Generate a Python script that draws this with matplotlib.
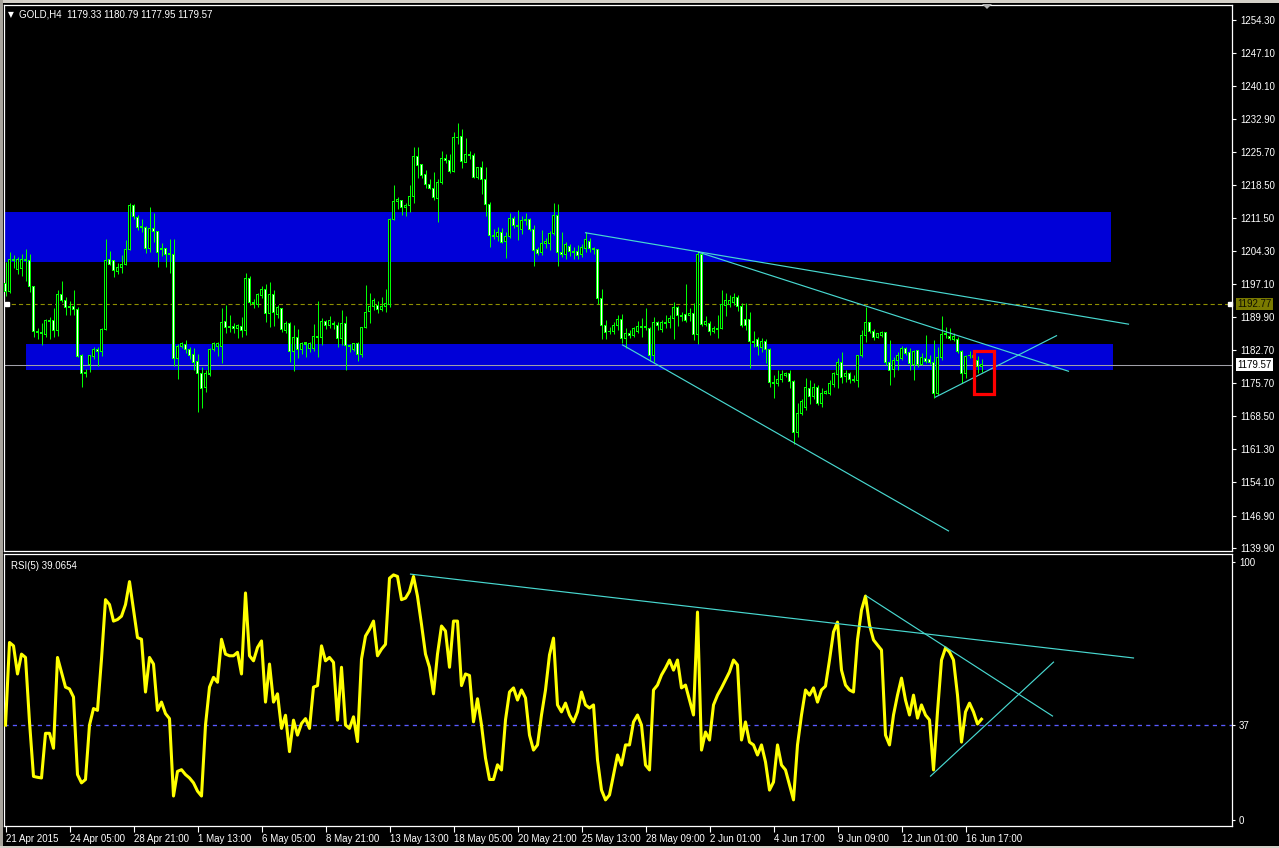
import matplotlib
matplotlib.use('Agg')
import matplotlib.pyplot as plt
from matplotlib.patches import Rectangle, Polygon

plt.rcParams['font.family'] = ['Liberation Sans', 'DejaVu Sans']
plt.rcParams['lines.scale_dashes'] = False

# ---------------- data ----------------
opens = [1197.2,1195.4,1202.4,1200.3,1200.5,1202.4,1202.1,1196.5,1186.9,1186.55,
 1186.25,1189.1,1189.1,1187.0,1194.85,1193.6,1192.3,1192.3,1191.6,1181.5,
 1178.0,1179.55,1181.35,1182.9,1182.4,1187.3,1202.3,1202.1,1199.8,1200.6,
 1201.35,1204.6,1214.0,1211.5,1209.5,1209.4,1204.75,1209.1,1208.4,1204.8,
 1204.8,1203.7,1203.4,1181.0,1183.65,1184.0,1182.9,1181.9,1180.3,1177.7,
 1174.7,1177.6,1182.9,1183.5,1183.5,1188.9,1187.8,1187.8,1187.5,1187.85,
 1187.0,1198.3,1193.1,1192.7,1194.7,1195.8,1190.7,1194.9,1190.5,1191.7,
 1187.1,1188.6,1182.4,1185.5,1182.8,1184.1,1183.15,1183.15,1185.8,1185.45,
 1189.0,1188.05,1188.6,1188.2,1185.3,1188.6,1183.7,1182.8,1184.2,1181.85,
 1187.6,1191.2,1192.3,1192.4,1191.6,1192.2,1192.75,1211.1,1214.9,1215.2,
 1213.6,1214.1,1216.1,1224.8,1222.9,1220.85,1218.7,1217.8,1215.65,1219.1,
 1224.3,1223.9,1221.4,1228.9,1229.0,1223.45,1225.2,1225.0,1220.1,1222.4,
 1219.8,1214.35,1207.7,1207.4,1208.3,1206.3,1207.35,1211.3,1209.7,1208.9,
 1210.9,1211.1,1208.9,1204.5,1203.95,1205.8,1205.9,1208.1,1212.0,1203.95,
 1203.5,1205.2,1204.2,1204.2,1203.4,1204.8,1206.3,1204.8,1204.5,1194.0,
 1188.2,1186.9,1186.8,1188.0,1189.4,1185.2,1186.4,1186.0,1186.9,1187.8,
 1187.6,1187.5,1181.6,1188.7,1187.3,1188.7,1188.7,1189.65,1192.0,1190.2,
 1190.4,1190.2,1190.7,1186.2,1203.5,1188.35,1188.6,1186.8,1187.35,1187.5,
 1192.4,1192.55,1193.1,1194.2,1192.3,1189.4,1189.4,1184.6,1185.0,1183.3,
 1184.6,1182.9,1175.85,1175.6,1176.4,1177.2,1177.7,1175.9,1164.9,1169.1,
 1170.4,1174.5,1172.8,1174.7,1171.2,1173.4,1173.4,1175.4,1177.4,1180.05,
 1177.0,1177.7,1176.3,1176.1,1181.5,1186.0,1188.7,1186.9,1185.5,1186.0,
 1186.6,1180.05,1178.5,1180.5,1181.0,1183.15,1182.2,1179.75,1182.6,1179.75,
 1181.0,1180.8,1180.05,1173.4,1181.1,1186.2,1185.8,1185.1,1185.1,1182.4,
 1177.7,1181.5,1181.7,1180.6,1179.33]
highs = [1201.9,1204.1,1203.4,1203.0,1203.5,1204.6,1203.7,1196.5,1187.6,1188.6,
 1189.5,1190.0,1191.8,1195.8,1197.7,1194.2,1193.4,1195.8,1192.2,1181.9,
 1178.6,1181.6,1183.5,1183.5,1187.5,1206.8,1204.2,1202.3,1201.7,1203.4,
 1206.6,1214.6,1214.35,1212.1,1211.2,1209.7,1213.85,1212.5,1208.4,1206.0,
 1205.0,1206.8,1206.8,1184.0,1184.6,1184.95,1183.5,1183.15,1181.9,1179.2,
 1178.45,1183.15,1184.6,1184.6,1192.0,1192.5,1190.4,1188.6,1188.4,1190.0,
 1199.5,1198.8,1193.8,1195.2,1196.65,1197.1,1197.6,1195.8,1192.5,1192.0,
 1189.1,1188.9,1188.2,1187.3,1184.6,1184.6,1184.6,1188.4,1193.4,1189.65,
 1189.4,1190.2,1189.15,1188.9,1191.5,1190.2,1184.2,1184.4,1184.6,1187.85,
 1196.9,1195.1,1194.1,1193.4,1194.3,1196.0,1211.3,1218.5,1215.9,1215.4,
 1214.6,1218.5,1226.8,1226.8,1223.2,1221.7,1219.8,1221.3,1219.8,1225.9,
 1225.2,1225.2,1229.95,1231.9,1230.6,1228.65,1225.9,1225.4,1222.5,1223.75,
 1222.4,1214.8,1209.0,1209.4,1209.2,1208.4,1212.4,1211.9,1213.1,1211.9,
 1212.4,1211.5,1209.9,1205.2,1208.8,1207.1,1208.6,1214.6,1214.4,1208.3,
 1206.3,1205.7,1205.2,1205.5,1205.7,1208.3,1207.0,1205.2,1204.5,1196.0,
 1189.3,1187.85,1188.9,1190.4,1190.6,1187.6,1187.1,1187.85,1189.1,1189.65,
 1191.8,1187.85,1190.0,1189.1,1189.4,1190.4,1190.4,1193.3,1192.4,1191.1,
 1197.1,1191.8,1192.9,1204.1,1203.95,1190.2,1189.1,1188.0,1190.4,1195.8,
 1195.1,1194.7,1195.1,1194.7,1192.9,1192.9,1191.1,1187.0,1185.7,1185.3,
 1185.1,1183.15,1177.4,1178.5,1178.5,1178.1,1178.5,1176.3,1171.4,1172.1,
 1176.7,1176.3,1175.6,1175.2,1174.5,1174.1,1176.3,1178.1,1181.0,1182.4,
 1178.5,1178.1,1177.4,1181.7,1187.1,1192.2,1188.9,1187.3,1186.55,1187.0,
 1186.8,1185.0,1181.35,1182.4,1183.7,1183.5,1183.15,1182.8,1182.9,1182.1,
 1186.0,1181.7,1185.0,1183.5,1190.2,1187.7,1187.5,1186.4,1185.7,1182.8,
 1181.7,1182.6,1182.4,1181.5,1180.79]
lows = [1194.4,1195.1,1200.5,1199.3,1198.8,1197.8,1195.4,1185.7,1185.1,1183.9,
 1185.7,1185.1,1185.7,1185.8,1193.3,1190.4,1190.4,1190.4,1181.35,1174.8,
 1176.9,1178.1,1180.8,1179.3,1181.5,1187.1,1201.2,1198.7,1199.3,1199.4,
 1201.2,1204.45,1211.1,1208.8,1208.4,1203.9,1204.1,1206.3,1200.85,1203.2,
 1200.7,1199.5,1179.3,1176.5,1183.15,1182.1,1180.8,1178.45,1169.4,1170.3,
 1173.8,1177.2,1182.6,1181.5,1180.05,1186.55,1186.8,1186.55,1185.3,1185.7,
 1186.0,1192.5,1192.0,1192.2,1194.1,1188.9,1187.85,1188.0,1189.65,1186.8,
 1186.4,1180.3,1178.2,1181.0,1181.85,1181.35,1182.4,1182.6,1181.35,1183.9,
 1187.3,1187.5,1187.3,1183.5,1183.9,1178.5,1182.4,1182.6,1180.4,1181.35,
 1187.5,1188.7,1191.5,1190.9,1191.2,1191.1,1192.2,1210.9,1213.3,1212.0,
 1211.9,1212.8,1214.7,1220.0,1220.0,1218.0,1217.6,1215.3,1210.6,1218.75,
 1223.4,1221.2,1221.4,1227.4,1222.2,1223.45,1224.2,1220.0,1219.8,1216.7,
 1211.9,1205.2,1206.85,1206.4,1205.9,1202.8,1207.0,1209.2,1206.6,1207.9,
 1209.9,1208.6,1201.1,1203.4,1203.4,1204.8,1204.5,1207.7,1201.1,1203.0,
 1202.5,1203.2,1202.45,1202.5,1203.0,1204.1,1204.1,1203.5,1192.7,1185.2,
 1185.2,1186.2,1186.2,1187.1,1184.4,1183.3,1185.3,1185.7,1186.55,1185.7,
 1187.1,1180.5,1180.3,1187.1,1186.8,1187.6,1187.5,1185.2,1188.1,1189.1,
 1188.9,1189.1,1185.0,1184.2,1188.1,1188.1,1186.0,1186.4,1185.5,1187.35,
 1190.2,1192.2,1192.55,1191.3,1187.85,1187.1,1179.0,1183.5,1181.7,1182.4,
 1180.05,1174.85,1172.5,1175.0,1175.9,1176.9,1174.5,1162.4,1164.0,1168.7,
 1169.9,1171.2,1172.1,1170.9,1170.5,1173.3,1173.0,1174.85,1174.5,1175.6,
 1175.9,1175.6,1175.85,1174.85,1181.35,1184.6,1186.4,1185.0,1185.3,1185.7,
 1179.5,1175.2,1177.0,1178.5,1180.6,1181.7,1178.5,1176.3,1179.2,1179.5,
 1180.05,1179.75,1172.5,1173.0,1180.6,1185.5,1185.0,1184.8,1182.1,1175.7,
 1176.7,1181.0,1180.8,1177.9,1177.95]
closes = [1195.4,1202.4,1202.1,1202.3,1202.4,1202.1,1196.5,1186.8,1186.55,1186.3,
 1189.1,1188.9,1187.0,1194.85,1193.5,1192.0,1192.0,1191.5,1181.35,1177.7,
 1177.65,1181.5,1182.9,1182.5,1187.3,1202.1,1201.4,1200.0,1200.7,1201.35,
 1204.6,1214.0,1211.7,1209.4,1209.3,1204.75,1209.1,1208.4,1203.95,1204.6,
 1203.4,1203.4,1181.0,1183.65,1184.1,1182.9,1181.7,1180.05,1177.7,1174.5,
 1177.7,1182.9,1184.1,1184.1,1188.7,1187.7,1187.6,1187.55,1188.0,1187.0,
 1198.3,1193.1,1192.9,1194.9,1195.8,1190.7,1194.9,1190.9,1192.0,1187.3,
 1188.6,1182.4,1185.5,1182.8,1184.1,1184.4,1184.2,1185.8,1185.5,1189.0,
 1188.05,1189.2,1188.35,1185.3,1188.6,1183.7,1183.65,1184.2,1181.85,1187.7,
 1191.0,1192.3,1193.6,1191.6,1192.3,1192.9,1211.1,1214.9,1215.3,1213.6,
 1214.2,1216.1,1224.8,1222.7,1220.5,1218.7,1217.8,1215.8,1219.1,1224.3,
 1223.75,1221.4,1228.9,1228.8,1223.6,1225.2,1224.9,1220.2,1222.3,1219.8,
 1214.35,1207.6,1207.4,1208.3,1206.1,1207.4,1211.3,1209.7,1209.45,1210.75,
 1211.1,1208.9,1204.4,1203.7,1205.9,1206.3,1208.1,1212.0,1203.95,1203.5,
 1205.7,1204.1,1203.95,1203.2,1205.0,1206.8,1204.7,1204.5,1194.0,1188.1,
 1186.55,1186.7,1188.2,1189.4,1185.3,1186.4,1186.0,1187.5,1187.8,1187.6,
 1187.85,1181.6,1188.7,1188.0,1188.7,1188.5,1189.65,1192.0,1190.2,1190.0,
 1189.15,1190.7,1186.2,1203.5,1188.35,1188.9,1186.8,1187.35,1187.5,1192.55,
 1193.55,1193.55,1194.2,1192.3,1188.2,1188.0,1184.6,1184.45,1183.5,1184.6,
 1182.9,1175.7,1175.6,1176.4,1177.4,1177.7,1175.9,1164.9,1169.1,1171.7,
 1174.6,1172.8,1174.7,1171.2,1173.4,1173.7,1175.6,1177.6,1180.05,1176.9,
 1177.7,1176.3,1176.1,1181.5,1186.0,1188.7,1186.8,1185.5,1186.3,1186.6,
 1180.05,1178.3,1180.6,1181.7,1183.15,1182.1,1179.9,1182.4,1179.6,1181.1,
 1180.3,1180.05,1173.4,1181.1,1186.2,1186.4,1185.3,1185.8,1182.4,1177.7,
 1181.35,1181.7,1181.2,1179.3,1179.57]

rsi = [36.8,68.8,67.5,56.6,64.3,63.0,38.05,16.9,16.55,16.3,
 33.6,33.6,27.8,63.0,57.25,51.5,50.8,47.65,17.6,14.4,
 15.7,36.8,43.2,42.5,62.4,85.4,83.5,77.1,77.7,79.0,
 83.5,92.4,81.6,70.7,70.05,49.6,63.0,60.45,42.5,45.7,
 41.25,39.3,9.3,18.85,19.5,17.6,16.3,14.4,11.2,9.3,
 36.8,51.5,55.3,53.4,70.05,64.3,63.65,63.65,65.0,56.6,
 88.0,63.65,61.7,66.85,69.4,45.7,60.45,45.7,48.9,35.5,
 40.6,26.5,38.7,32.9,37.4,39.3,35.5,51.5,52.1,67.5,
 61.7,63.0,61.1,38.7,59.2,36.8,35.5,40.0,30.4,62.4,
 71.3,73.9,77.1,63.65,66.2,68.1,93.7,95.0,94.4,85.4,
 86.0,88.6,94.4,86.7,75.8,64.3,59.2,48.9,64.3,75.2,
 73.25,59.2,77.1,77.1,52.1,56.6,56.0,38.05,47.0,36.8,
 24.0,15.7,15.7,21.4,19.4,38.8,49.6,51.2,46.5,50.4,
 47.3,32.9,27.1,29.1,40.7,50.4,64.0,70.5,44.6,41.9,
 45.3,40.7,38.0,41.9,49.6,44.6,43.4,44.6,23.3,11.6,
 7.8,9.7,17.4,25.2,21.3,29.1,29.1,38.0,40.7,36.8,
 21.3,19.4,50.4,52.3,56.2,58.9,62.0,58.1,62.0,51.2,
 52.3,46.5,40.7,80.6,27.1,34.1,31.0,44.6,48.4,51.2,
 54.3,57.4,62.0,60.1,31.0,38.0,30.2,29.1,25.2,29.1,
 22.5,11.6,14.7,29.1,21.3,19.4,13.6,7.8,29.1,40.7,
 50.4,48.4,51.2,45.7,50.4,51.9,62.0,72.9,76.7,58.1,
 52.3,50.4,49.6,69.8,81.4,86.8,75.6,69.8,67.8,65.9,
 32.9,29.1,40.7,48.4,55.0,46.5,40.7,48.4,39.5,44.6,
 40.7,38.8,19.4,41.9,62.0,66.7,65.1,62.0,48.4,30.2,
 41.9,45.3,41.9,37.2,39.0654]

price_ticks = [1254.30, 1247.10, 1240.10, 1232.90, 1225.70, 1218.50, 1211.50, 1204.30,
               1197.10, 1189.90, 1182.70, 1175.70, 1168.50, 1161.30, 1154.10, 1146.90, 1139.90]
time_tick_bars = [0, 16, 32, 48, 64, 80, 96, 112, 128, 144, 160, 176, 192, 208, 224, 240]
time_tick_labels = ['21 Apr 2015', '24 Apr 05:00', '28 Apr 21:00', '1 May 13:00', '6 May 05:00',
                    '8 May 21:00', '13 May 13:00', '18 May 05:00', '20 May 21:00', '25 May 13:00',
                    '28 May 09:00', '2 Jun 01:00', '4 Jun 17:00', '9 Jun 09:00', '12 Jun 01:00',
                    '16 Jun 17:00']
rsi_ticks = [100, 37, 0]
rsi_level = 37
ask_line = 1192.77
bid_line = 1179.57

# zones: (first bar, last bar, low price, high price)
zone_upper = (-0.4, 276.25, 1201.9, 1212.7)
zone_lower = (5.0, 276.75, 1178.4, 1184.1)
# trend lines: ((bar, value), (bar, value))
price_trendlines = [((145.0, 1208.2), (280.75, 1188.4)),
                    ((173.25, 1204.0), (265.75, 1178.2)),
                    ((154.25, 1183.9), (235.75, 1143.6)),
                    ((232.5, 1172.6), (262.75, 1185.9))]
rsi_trendlines = [((101.25, 95.3), (282.0, 62.8)),
                  ((215.25, 86.8), (261.75, 40.3)),
                  ((231.25, 17.0), (262.0, 61.2))]
red_box = (242.1, 247.1, 1173.2, 1182.6)

# ---------------- style ----------------
W, H = 1279, 848
GREEN = '#00ff00'
BLUE = '#0000d8'
TEAL = '#48d8d0'
FRAME = '#ffffff'
FS = 7

fig = plt.figure(figsize=(W / 100, H / 100), dpi=100, facecolor='black')


def px_rect(l, t, r, b):
    return [l / W, 1 - b / H, (r - l) / W, (b - t) / H]


ax = fig.add_axes(px_rect(4, 5, 1232, 551))
ax2 = fig.add_axes(px_rect(4, 554, 1232, 826), sharex=ax)

for a in (ax, ax2):
    a.set_facecolor('black')
    for s in a.spines.values():
        s.set_color(FRAME)
        s.set_linewidth(0.9)

xs = list(range(len(closes)))
px_per_bar = 4.0
# bar i is centred on pixel column 5+4i
x_left = -0.375
x_right = x_left + (1232 - 4) / px_per_bar
ax.set_xlim(x_left, x_right)

# price scale: 1254.30 at y=20px, 1139.90 at y=548px
ppx = (548 - 20) / (1254.30 - 1139.90)
ax.set_ylim(1139.90 - (551 - 548) / ppx, 1254.30 + (20 - 5) / ppx)

# zones
for (b0, b1, lo, hi) in (zone_upper, zone_lower):
    ax.add_patch(Rectangle((b0, lo), b1 - b0, hi - lo, facecolor=BLUE, edgecolor='none', zorder=1))

# horizontal price lines
ax.axhline(ask_line, color='#8f8f00', lw=0.8, ls=(0, (3.0, 2.2)), zorder=2)
ax.axhline(bid_line, color='#a0a0a8', lw=0.75, zorder=2)
ax.plot([0.3], [ask_line], marker='s', ms=3.0, color='white', zorder=6, clip_on=False)
ax.plot([x_right - 0.6], [ask_line], marker='s', ms=3.0, color='white', zorder=6, clip_on=False)

# candles: wick, 3px green body, 1px inner fill (black = up, white = down)
ax.vlines(xs, lows, highs, color=GREEN, lw=0.72, zorder=3)
one_px = 1.0 / ppx
body_lo = [min(o, c) - 0.5 * one_px for o, c in zip(opens, closes)]
body_h = [abs(c - o) + one_px for o, c in zip(opens, closes)]
ax.bar(xs, body_h, bottom=body_lo, width=0.75, color=GREEN, linewidth=0, zorder=4)
inner_lo = [b + one_px for b in body_lo]
inner_h = [max(h - 2 * one_px, 0) for h in body_h]
fills = ['black' if c >= o else 'white' for o, c in zip(opens, closes)]
ax.bar(xs, inner_h, bottom=inner_lo, width=0.25, color=fills, linewidth=0, zorder=4.5)

# trend lines
for (p0, p1) in price_trendlines:
    ax.plot([p0[0], p1[0]], [p0[1], p1[1]], color=TEAL, lw=0.85, zorder=5)

rb = red_box
ax.add_patch(Rectangle((rb[0], rb[2]), rb[1] - rb[0], rb[3] - rb[2], fill=False,
                       edgecolor='#ff0000', lw=2.3, zorder=7))

# price axis ticks
ax.yaxis.tick_right()
ax.set_yticks(price_ticks)
ax.set_yticklabels(['%.2f' % v for v in price_ticks])
ax.tick_params(axis='y', colors='white', labelsize=FS, length=3, width=0.8, pad=3)
ax.tick_params(axis='x', bottom=False, labelbottom=False)

# price labels on the axis
ax.annotate('%.2f' % ask_line, xy=(1.0, ask_line), xycoords=('axes fraction', 'data'),
            xytext=(4, 0), textcoords='offset points', va='center', ha='left',
            fontsize=FS, color='#101000',
            bbox=dict(boxstyle='square,pad=0.15', fc='#7a7a00', ec='none'), annotation_clip=False)
ax.annotate('%.2f' % bid_line, xy=(1.0, bid_line), xycoords=('axes fraction', 'data'),
            xytext=(4, 0), textcoords='offset points', va='center', ha='left',
            fontsize=FS, color='black',
            bbox=dict(boxstyle='square,pad=0.15', fc='white', ec='none'), annotation_clip=False)

# header
ax.text(0.0035, 0.983, '\u25bc', transform=ax.transAxes, color='white', fontsize=5.5,
        va='center', ha='left', family='DejaVu Sans', zorder=8)
ax.text(0.0125, 0.983, 'GOLD,H4  %.2f %.2f %.2f %.2f' % (opens[-1], highs[-1], lows[-1], closes[-1]),
        transform=ax.transAxes, color='white', fontsize=FS, va='center', ha='left', zorder=8)

# ---------------- RSI ----------------
rpx = (820 - 562) / 100.0
ax2.set_ylim(0 - (826 - 820) / rpx, 100 + (562 - 554) / rpx)
ax2.axhline(rsi_level, color='#5a5aff', lw=0.95, ls=(0, (3.0, 3.0)), zorder=2)
ax2.plot(xs, rsi, color='#ffff00', lw=2.2, zorder=4)
for (p0, p1) in rsi_trendlines:
    ax2.plot([p0[0], p1[0]], [p0[1], p1[1]], color=TEAL, lw=0.85, zorder=5)
ax2.text(0.006, 0.955, 'RSI(5) %.4f' % rsi[-1], transform=ax2.transAxes, color='white',
         fontsize=FS, va='center', ha='left')
ax2.yaxis.tick_right()
ax2.set_yticks(rsi_ticks)
ax2.set_yticklabels([str(v) for v in rsi_ticks])
ax2.tick_params(axis='y', colors='white', labelsize=FS, length=2, width=0.8, pad=3)

ax2.set_xticks(time_tick_bars)
ax2.set_xticklabels(time_tick_labels)
ax2.tick_params(axis='x', colors='white', labelsize=FS, length=4, width=0.8, pad=1.5, direction='out')
for lab in ax2.get_xticklabels():
    lab.set_horizontalalignment('left')

# window chrome
fig.patches.append(Rectangle((0, 1 - 3 / H), 1, 3 / H, transform=fig.transFigure,
                             facecolor='#d4d0c8', edgecolor='none'))
fig.patches.append(Rectangle((0, 0), 3 / W, 1, transform=fig.transFigure,
                             facecolor='#a8a49c', edgecolor='none'))
fig.patches.append(Rectangle((0, 0), 1, 2 / H, transform=fig.transFigure,
                             facecolor='#d4d0c8', edgecolor='none'))
fig.patches.append(Polygon([[982 / W, 1 - 4 / H], [992 / W, 1 - 4 / H], [987 / W, 1 - 9 / H]],
                           closed=True, transform=fig.transFigure, facecolor='#b0b0b0',
                           edgecolor='none'))

fig.savefig('out.png', dpi=100, facecolor='black')
